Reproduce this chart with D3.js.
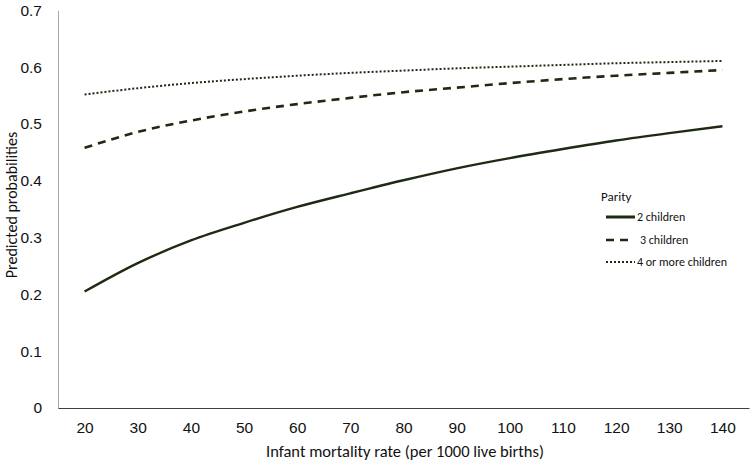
<!DOCTYPE html>
<html>
<head>
<meta charset="utf-8">
<script src="https://cdn.jsdelivr.net/npm/d3@7"></script>
<style>
  body { margin: 0; background: #fff; }
  svg { font-family: Carlito, Lato, "Liberation Sans", sans-serif; }
</style>
</head>
<body>
<svg id="chart" width="754" height="464"></svg>
<script>
// infant mortality rate (per 1000 live births)
const imr = [20, 30, 40, 50, 60, 70, 80, 90, 100, 110, 120, 130, 140];
const twoChildren  = [0.205, 0.255, 0.295, 0.326, 0.354, 0.378, 0.401, 0.422, 0.440, 0.456, 0.471, 0.484, 0.496];
const threeChildren = [0.458, 0.486, 0.506, 0.522, 0.535, 0.546, 0.556, 0.564, 0.572, 0.579, 0.585, 0.590, 0.595];
const fourPlus     = [0.552, 0.563, 0.572, 0.579, 0.585, 0.590, 0.594, 0.598, 0.601, 0.604, 0.607, 0.609, 0.611];
const yTicks = [0, 0.1, 0.2, 0.3, 0.4, 0.5, 0.6, 0.7];
const seriesNames = ['2 children', '3 children', '4 or more children'];

const lineColor = '#1e2a12';
const textColor = '#111';
const styles = [
    { width: 2.4, dash: null },
    { width: 2.6, dash: '8,6' },
    { width: 2, dash: '2,2' }
];

const svg = d3.select('#chart');

const x = d3.scaleLinear().domain([15, 145]).range([58, 749]);
const y = d3.scaleLinear().domain([0, 0.7]).range([408, 10.4]);

// y axis
const yAxis = svg.append('g')
    .attr('transform', 'translate(58,0)')
    .call(d3.axisLeft(y).tickValues(yTicks).tickSize(0).tickPadding(16)
        .tickFormat(d => d === 0 ? '0' : d3.format('.1f')(d)));
yAxis.select('.domain').attr('stroke', '#a6a6a6').attr('stroke-width', 1);
yAxis.selectAll('text').attr('font-size', 15.5).attr('fill', textColor);

// x axis
const xAxis = svg.append('g')
    .attr('transform', 'translate(0,408)')
    .call(d3.axisBottom(x).tickValues(imr).tickSize(0).tickPadding(14));
xAxis.select('.domain').attr('stroke', '#404040').attr('stroke-width', 1.2);
xAxis.selectAll('text').attr('font-size', 15.5).attr('fill', textColor);

// axis titles
svg.append('text')
    .attr('x', 405).attr('y', 457)
    .attr('text-anchor', 'middle')
    .attr('font-size', 16.5).attr('fill', textColor)
    .text('Infant mortality rate (per 1000 live births)');

svg.append('text')
    .attr('transform', 'translate(17,205) rotate(-90)')
    .attr('text-anchor', 'middle')
    .attr('font-size', 16).attr('fill', textColor)
    .text('Predicted probabilities');

// lines
const series = [twoChildren, threeChildren, fourPlus];
const line = d3.line()
    .x((d, i) => x(imr[i]))
    .y(d => y(d))
    .curve(d3.curveMonotoneX);

series.forEach((vals, i) => {
    svg.append('path')
        .datum(vals)
        .attr('fill', 'none')
        .attr('stroke', lineColor)
        .attr('stroke-width', styles[i].width)
        .attr('stroke-dasharray', styles[i].dash)
        .attr('d', line);
});

// legend
const legend = svg.append('g').attr('transform', 'translate(601,0)');
legend.append('text')
    .attr('x', 0).attr('y', 201)
    .attr('font-size', 13).attr('fill', textColor)
    .text('Parity');

const rowY = [217, 240, 262];
seriesNames.forEach((name, i) => {
    legend.append('line')
        .attr('x1', 5).attr('x2', i === 1 ? 30 : 34)
        .attr('y1', rowY[i]).attr('y2', rowY[i])
        .attr('stroke', lineColor)
        .attr('stroke-width', i === 0 ? 3 : styles[i].width)
        .attr('stroke-dasharray', styles[i].dash);
    legend.append('text')
        .attr('x', i === 1 ? 39 : 36).attr('y', rowY[i] + 4)
        .attr('font-size', 12).attr('fill', textColor)
        .text(name);
});
</script>
</body>
</html>
